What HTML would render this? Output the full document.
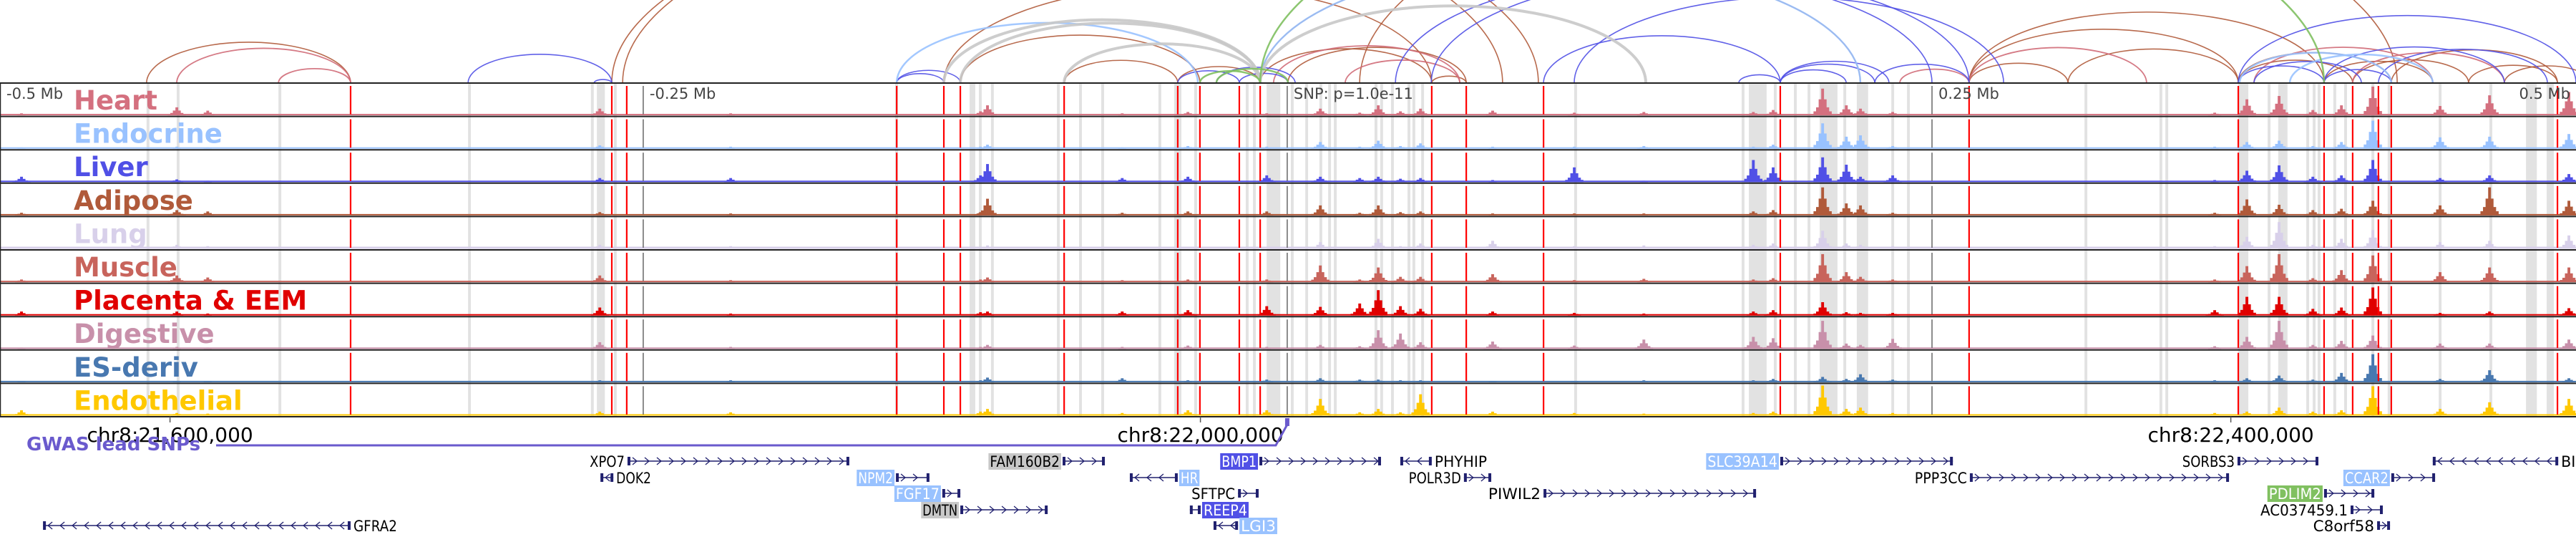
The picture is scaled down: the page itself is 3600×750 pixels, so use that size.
<!DOCTYPE html>
<html><head><meta charset="utf-8"><style>
html,body{margin:0;padding:0;background:#fff;}
svg{display:block;font-family:"DejaVu Sans","Liberation Sans",sans-serif;}
</style></head>
<body>
<svg id="chart" xmlns="http://www.w3.org/2000/svg" width="3600" height="750" viewBox="0 0 3600 750"></svg>
<script>
// ---------- DATA (positions in kb from window start chr8:21,534,000) ----------
const trackNames = ["Heart","Endocrine","Liver","Adipose","Lung","Muscle","Placenta & EEM","Digestive","ES-deriv","Endothelial"];
const trackColors = ["#d4707f","#99c2ff","#5050e6","#b05a3a","#d8d0ea","#c8645c","#e00000","#c890aa","#4878b0","#ffc800"];
const peakPos = [8.3,68.6,80.6,232.8,283.6,380.6,383.3,435.6,461.1,491.7,512.5,527.8,535,543.6,551.4,579.4,611.1,638.1,680.6,688.3,707.5,716.7,722.2,734.7,859.7,872.2,884.7,897.8,908.9,921.1,947.2,966.4,997.2];
const sigHeart = [3,12,7,10,3,6,15,3,5,3,10,4,15,6,10,7,4,5,5,8,40,15,10,5,4,24,29,8,15,43,14,30,35];
const sigEndocrine = [2,3,2,5,3,3,6,2,4,3,10,3,12,4,8,3,3,4,3,6,38,18,20,4,3,10,12,4,10,42,17,18,22];
const sigLiver = [8,4,2,6,6,10,27,6,8,10,8,6,8,5,6,3,22,2,33,22,37,26,8,10,3,17,25,8,10,33,6,10,12];
const sigAdipose = [4,8,6,5,3,5,25,4,6,6,15,4,15,5,6,3,3,3,6,8,42,18,15,4,4,24,16,8,10,22,15,42,22];
const sigLung = [3,6,4,6,4,3,5,3,3,3,10,3,15,4,8,12,4,5,6,8,27,8,6,4,4,18,40,6,15,28,10,12,20];
const sigMuscle = [4,10,7,10,3,4,7,3,4,4,25,4,22,8,8,12,3,5,4,6,42,15,8,4,4,24,42,6,18,40,15,22,22];
const sigPlacenta = [6,6,3,12,3,5,6,6,8,14,13,18,38,14,10,6,4,3,6,8,20,5,4,4,8,28,28,10,12,42,4,6,11];
const sigDigestive = [2,3,2,10,3,3,6,3,5,3,6,4,28,23,10,11,5,14,18,16,42,8,6,15,4,18,42,6,12,20,8,8,14];
const sigES = [2,2,2,3,3,3,7,6,3,4,6,4,4,3,3,2,2,3,3,5,8,5,12,4,3,6,10,4,14,42,5,18,6];
const sigEndothelial = [8,4,3,6,5,6,10,4,8,8,25,5,10,5,32,6,4,3,4,6,45,10,12,4,4,6,12,6,8,44,10,20,25];
const signals = [sigHeart,sigEndocrine,sigLiver,sigAdipose,sigLung,sigMuscle,sigPlacenta,sigDigestive,sigES,sigEndothelial];

const redLinesKb = [136.1,237.5,243.3,348.1,366.4,372.8,413.1,457.2,465.8,481.1,489.2,555.8,569.2,599.2,691.1,764.4,868.9,902.2,913.3,923.3,928.3,992.8];
const grayDashKb = [249.7,499.7,750];
const shadeStart = [56.9,68.6,108.1,181.7,229.4,231.7,238.3,347.5,376.4,380,384.7,410.3,418.9,427.5,449.7,455.8,463.6,483.6,486.4,491.7,501.1,506.7,512.2,515.6,517.8,533.6,535.8,540,546.4,548.3,551.7,611.1,676.1,678.9,688.6,696.4,701.7,706.4,715.6,720.8,734.2,740.3,809.2,838.3,840.6,868.9,880.3,884.4,895.3,897.8,899.7,905.8,910,920.6,926.9,946.7,966.4,980.6,988.6];
const shadeLen = [1.1,1.1,1.1,1.1,1.1,3.1,1.1,1.1,2.2,1.1,1.1,1.1,1.1,1.1,1.1,2.8,1.1,1.1,1.1,5.3,1.1,1.1,1.1,1.1,1.1,1.1,1.1,1.1,1.1,1.1,1.1,1.1,1.1,6.9,1.1,1.1,1.1,6.9,1.1,4.4,1.1,1.1,1.1,1.1,1.1,3.9,1.1,3.6,1.1,1.1,1.1,1.1,1.1,1.1,1.1,1.1,1.1,4.2,2.8];

const arcStart = [56.9,237.5,241.7,366.4,372.8,413.1,457.2,489.2,500,555.8,489.2,764.4,764.4,802.8,764.4,868.9,902.2,913.3,928.3,958.3,972.2,868.9,527.8,
 68.6,108.1,494.4,522.2,737.5,764.4,875,913.3,
 181.7,230.6,348.1,348.1,457.2,481.1,472.2,599.2,611.1,675,691.1,691.1,691.1,727.8,541.7,868.9,875,902.2,902.2,923.3,868.9,555.6,
 348.1,489.2,869.4,888.9,
 366.4,372.8,413.1,489.2,
 465.8,472.2,489.2];
const arcEnd = [136.1,583.3,597.2,555.8,465.8,457.2,489.2,555.8,569.2,569.2,722.2,868.9,802.8,868.9,902.2,913.3,944.4,958.3,992.8,992.8,1005.6,928.3,930.6,
 136.1,136.1,566.7,566.7,764.4,833.3,944.4,972.2,
 237.5,237.5,372.8,366.4,481.1,500,502.8,691.1,777.8,691.1,727.8,733.3,716.7,764.4,750,902.2,916.7,928.3,972.2,988.9,1000,764.4,
 465,722.2,928.3,944.4,
 489.2,489.2,489.2,638.9,
 489.2,500,902.2];
const arcType = ["brown","brown","brown","brown","brown","brown","brown","brown","brown","brown","brown","brown","brown","brown","brown","brown","brown","brown","brown","brown","brown","brown","brown",
 "pink","pink","pink","pink","pink","pink","pink","pink",
 "blue","blue","blue","blue","blue","blue","blue","blue","blue","blue","blue","blue","blue","blue","blue","blue","blue","blue","blue","blue","blue","blue",
 "lightblue","lightblue","lightblue","lightblue",
 "gray","gray","gray","gray",
 "green","green","green"];

const tickKb = [66,466,866];
const tickLabels = ["chr8:21,600,000","chr8:22,000,000","chr8:22,400,000"];
const scaleKb = [0,249.7,499.7,750,999.7];
const scaleLabels = ["-0.5 Mb","-0.25 Mb","SNP: p=1.0e-11","0.25 Mb","0.5 Mb"];

const geneNames = ["XPO7","FAM160B2","BMP1","PHYHIP","SLC39A14","SORBS3","BIN3","DOK2","NPM2","HR","POLR3D","PPP3CC","CCAR2","FGF17","SFTPC","PIWIL2","PDLIM2","DMTN","REEP4","AC037459.1","GFRA2","LGI3","C8orf58"];
const geneStart = [243.6,412.5,488.9,543.6,691.1,868.6,944.4,233.1,347.8,438.6,568.3,764.7,928.3,365.8,480.6,599.2,902.2,372.8,461.9,912.5,16.7,471.1,922.8];
const geneEnd = [329.7,428.9,536.1,555.8,758.1,900,993.1,238.1,360.8,457.2,578.9,865.3,945.3,372.8,488.6,681.7,921.7,406.7,466.1,925,136.1,480.6,927.8];
const geneStrand = [1,1,1,-1,1,1,-1,-1,1,-1,1,1,1,1,1,1,1,1,-1,1,-1,-1,1];
const geneRow = [0,0,0,0,0,0,0,1,1,1,1,1,1,2,2,2,2,3,3,3,4,4,4];
const geneStyle = ["plain","gray","dark","plain","light","plain","plain","plain","light","light","plain","plain","light","light","plain","plain","green","gray","dark","plain","plain","light","plain"];
const gwasSnpKb = [499.7];

// ---------- RENDER ----------
const NS = "http://www.w3.org/2000/svg";
const svg = document.getElementById("chart");
function mk(tag, attrs, parent){ const e=document.createElementNS(NS,tag); for(const k in attrs) e.setAttribute(k,attrs[k]); (parent||svg).appendChild(e); return e; }
const PX = 3.6;
const xs = kb => kb*PX;
const TOP = 116, TH = 46.6, NT = trackNames.length;
const trackTop = i => TOP + i*TH;
const BOTTOM = trackTop(NT);
const ys = v => v/45*42;

// arcs
const arcColors = {brown:"#b05a3a",pink:"#d06b78",blue:"#5050e6",lightblue:"#99c2ff",gray:"#c8c8c8",green:"#80c060"};
const arcWidths = {brown:1.6,pink:1.8,blue:1.6,lightblue:2.5,gray:4,green:2.5};
const gArcs = mk("g",{});


arcStart.forEach((s,i)=>{
  const x1=xs(s), x2=xs(arcEnd[i]); const span=x2-x1;
  const p=mk("path",{d:`M${x1},${TOP} A${span/2},${span*0.2} 0 0 1 ${x2},${TOP}`,fill:"none",stroke:arcColors[arcType[i]],"stroke-width":arcWidths[arcType[i]],"stroke-opacity":0.9},gArcs);
  
  
});

// shading
const gShade = mk("g",{});


shadeStart.forEach((s,i)=>{
  const r=mk("rect",{x:xs(s),y:TOP,width:xs(shadeLen[i]),height:BOTTOM-TOP,fill:"#e2e2e2"},gShade);
  
  
});

// signals
const kernel=[0.15,0.3,0.6,1,0.6,0.3,0.15];
signals.forEach((arr,t)=>{
  const g=mk("g",{fill:trackColors[t]});
  
  
  const base=trackTop(t+1)-1.5;
  const bl=mk("rect",{x:0,y:base-(t===4?3:2),width:3600,height:(t===4?3:2)},g);
  
  
  arr.forEach((v,k)=>{
    kernel.forEach((f,j)=>{
      const h=ys(v)*f; if(h<1) return;
      const r=mk("rect",{x:xs(peakPos[k])+(j-3)*PX-PX/2,y:base-h,width:PX+0.3,height:h},g);
      
      
    });
  });
});

// dashed vertical lines
for(let t=0;t<NT;t++){
  redLinesKb.forEach(kb=>{
    const l=mk("line",{x1:xs(kb),x2:xs(kb),y1:trackTop(t)+4,y2:trackTop(t+1)-3,stroke:"#ff0000","stroke-width":2.2});
    
    
  });
  grayDashKb.forEach(kb=>{
    const l=mk("line",{x1:xs(kb),x2:xs(kb),y1:trackTop(t)+4,y2:trackTop(t+1)-3,stroke:"#666","stroke-width":1.5});
    
    
  });
}

// dividers
for(let t=0;t<=NT;t++){
  const l=mk("line",{x1:0,x2:3600,y1:trackTop(t),y2:trackTop(t),stroke:"#222","stroke-width":2});
  
  
}
const lb=mk("line",{x1:0.5,x2:0.5,y1:TOP,y2:BOTTOM,stroke:"#222","stroke-width":1.5});



// labels
trackNames.forEach((n,t)=>{
  const tx=mk("text",{x:103,y:trackTop(t)+37,"font-size":37,"font-weight":"bold",fill:trackColors[t]});
  tx.textContent=n;
  
  
});
scaleKb.forEach((kb,i)=>{
  let x=xs(kb)+9, anchor="start";
  if(i===scaleKb.length-1){x=3592;anchor="end";}
  const tx=mk("text",{x:x,y:138,"font-size":21,fill:"#444","text-anchor":anchor});
  tx.textContent=scaleLabels[i];
  
  
});

// x axis
tickKb.forEach((kb,i)=>{
  const l=mk("line",{x1:xs(kb),x2:xs(kb),y1:BOTTOM,y2:BOTTOM+8,stroke:"#555","stroke-width":1.5});
  
  
  const tx=mk("text",{x:xs(kb),y:617,"font-size":28,fill:"#000","text-anchor":"middle"});
  tx.textContent=tickLabels[i];
  
  
});

// GWAS track
const gx=xs(gwasSnpKb[0]);
const gp=mk("path",{d:`M302,622 L${gx-16},622 L${gx},593`,fill:"none",stroke:"#6a5acd","stroke-width":3});


const gr=mk("rect",{x:gx-3,y:584,width:6,height:11,fill:"#6a5acd"});


const gt=mk("text",{x:37,y:629,"font-size":26,"font-weight":"bold",fill:"#6a5acd"});
gt.textContent="GWAS lead SNPs";



// genes
const rowY=[644,667,689,712,734];
const styleBg={plain:null,gray:"#c8c8c8",dark:"#5050e6",light:"#99c2ff",green:"#80c060"};
const styleFg={plain:"#000",gray:"#000",dark:"#fff",light:"#fff",green:"#fff"};
const GC="#20206e";
geneNames.forEach((n,i)=>{
  const g=mk("g",{});
  
  
  const y=rowY[geneRow[i]], x1=xs(geneStart[i]), x2=xs(geneEnd[i]), s=geneStrand[i];
  const ln=mk("line",{x1:x1,x2:x2,y1:y,y2:y,stroke:GC,"stroke-width":1.5},g);
  
  
  for(let x=x1+10;x<x2-6;x+=17){
    const c=mk("path",{d:s>0?`M${x-3},${y-5} L${x+3},${y} L${x-3},${y+5}`:`M${x+3},${y-5} L${x-3},${y} L${x+3},${y+5}`,fill:"none",stroke:GC,"stroke-width":1.3},g);
    
    
  }
  [x1,x2-4].forEach(ex=>{
    const e=mk("rect",{x:ex,y:y-6,width:4,height:12,fill:GC},g);
    
    
  });
  const tx=mk("text",{y:y+8,"font-size":21,fill:styleFg[geneStyle[i]]},g);
  tx.textContent=n;
  
  
  let w=n.length*12.2;
  let lx = s>0 ? x1-4-w : x2+4;
  if(styleBg[geneStyle[i]]){
    const b=mk("rect",{x:lx-2,y:y-11,width:w+4,height:23,fill:styleBg[geneStyle[i]]},g);
    
    
    g.insertBefore(b,tx);
  }
  tx.setAttribute('x',lx);
  tx.setAttribute('textLength',w);
  tx.setAttribute('lengthAdjust','spacingAndGlyphs');
});
</script>
</body></html>
